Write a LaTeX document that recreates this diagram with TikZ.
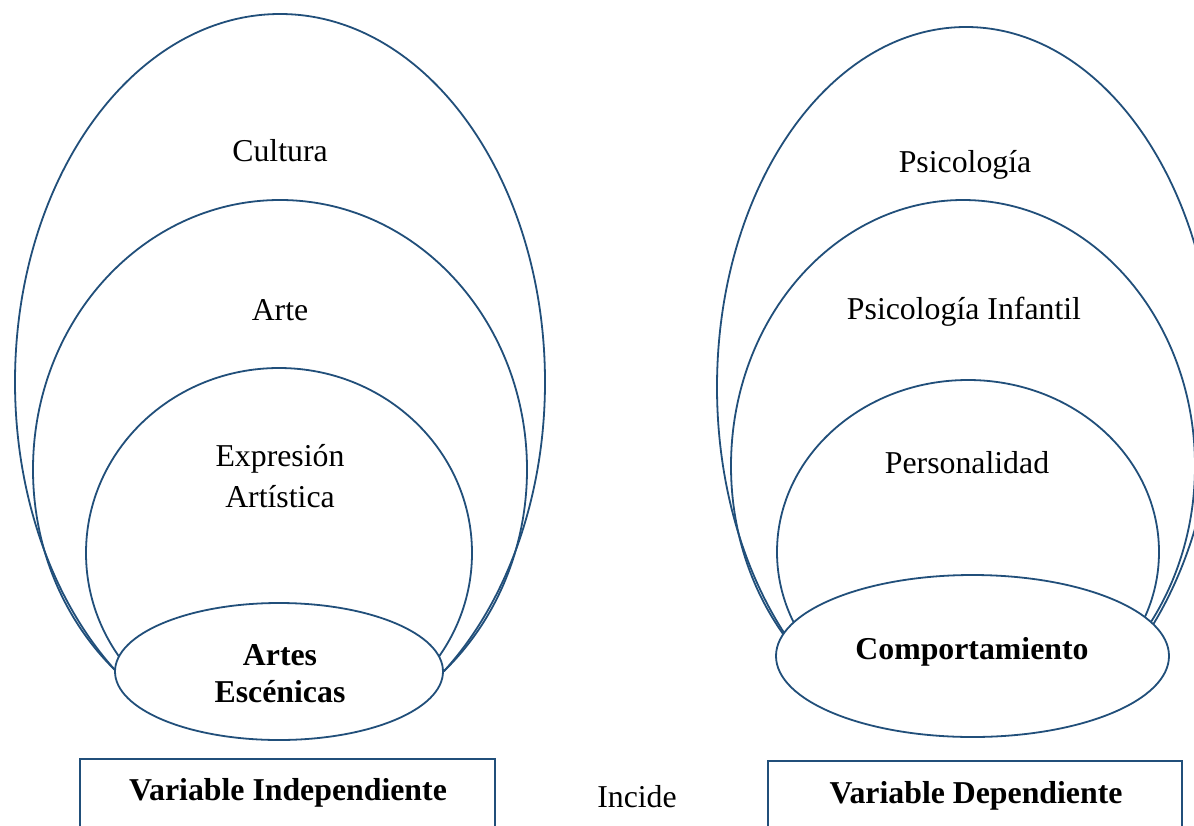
\documentclass[tikz,border=0pt]{standalone}
\usepackage{fontspec}
\setmainfont{Liberation Serif}
\definecolor{edge}{RGB}{33,79,122}
\begin{document}
\begin{tikzpicture}[x=1pt,y=-1pt,
  curve/.style={draw=edge, line width=1.8pt},
  lbl/.style={anchor=base, inner sep=0pt, font=\fontsize{31.8}{38}\selectfont},
  blbl/.style={lbl, font=\fontsize{31.8}{38}\selectfont\bfseries},
  varbox/.style={draw=edge, line width=1.8pt, inner sep=0pt}]
\useasboundingbox (0,0) rectangle (1194,825);
\fill[white] (0,0) rectangle (1194,825);

% ---- left group ----
\begin{scope}
  \clip (0,0) rectangle (600,671);
  \draw[curve] (280,382) ellipse [x radius=265, y radius=368];
  \draw[curve] (280,469.5) ellipse [x radius=247, y radius=269.5];
  \draw[curve] (279,553) ellipse [x radius=193, y radius=185];
\end{scope}
\draw[curve, fill=white] (279,671.5) ellipse [x radius=164, y radius=68.5];

% ---- right group ----
\begin{scope}
  \clip (650,0) rectangle (1260,655);
  \draw[curve] (966,387) ellipse [x radius=249, y radius=360];
  \draw[curve] (963,466) ellipse [x radius=232, y radius=266];
  \draw[curve] (968,552) ellipse [x radius=191, y radius=172];
\end{scope}
\draw[curve, fill=white] (972.5,656) ellipse [x radius=196.5, y radius=81];

% ---- labels ----
\node[lbl] (cultura) at (280,161) {Cultura};
\node[lbl] (arte) at (280,320) {Arte};
\node[lbl] (expr1) at (280,466) {Expresión};
\node[lbl] (expr2) at (280,507) {Artística};
\node[blbl] (artes1) at (280,665) {Artes};
\node[blbl] (artes2) at (280,702) {Escénicas};

\node[lbl] (psico) at (965,172) {Psicología};
\node[lbl] (psicoinf) at (964,319) {Psicología Infantil};
\node[lbl] (perso) at (967,473) {Personalidad};
\node[blbl] (compo) at (972,659) {Comportamiento};

% ---- boxes ----
\node[varbox, minimum width=415pt, minimum height=90pt] (vibox) at (287.5,804) {};
\node[varbox, minimum width=414pt, minimum height=90pt] (vdbox) at (975,806) {};
\node[blbl] (vi) at (288,800) {Variable Independiente};
\node[lbl] (incide) at (637,807) {Incide};
\node[blbl] (vd) at (976,803) {Variable Dependiente};
\end{tikzpicture}
\end{document}
